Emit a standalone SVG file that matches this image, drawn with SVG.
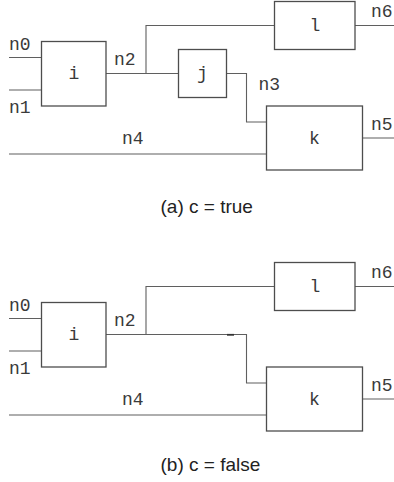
<svg xmlns="http://www.w3.org/2000/svg" width="394" height="482" viewBox="0 0 394 482">
<style>
.box{fill:#fff;stroke:#4d4d4d;stroke-width:1.3}
.w{fill:none;stroke:#5f5f5f;stroke-width:1.1}
.lbl{font-family:"Liberation Mono",monospace;font-size:18px;fill:#3a3a3a}
.cap{font-family:"Liberation Sans",Arial,sans-serif;font-size:19px;fill:#222}
</style>
<rect width="394" height="482" fill="#fff"/>
<g id="connectors">
<path class="w" d="M9 57.5H41.5M9 90H41.5M106 73.5H178.5M146 73.5V25.5H274.5M226.5 73.5H246.5V122H266.5M9 154H266.5M362.5 138H394M355 25.5H394"/>
<path class="w" d="M9 318.5H41.5M9 351H41.5M106 334.5H246.5V383H266.5M146 334.5V286.5H274.5M9 415H266.5M362.5 399H394M355 286.5H394"/>
<path d="M227 334.8H234" stroke="#333" stroke-width="1.8"/>
</g>
<g id="a_i"><rect class="box" x="41.5" y="41.5" width="64.5" height="64.5"/><text class="lbl" x="74" y="79" text-anchor="middle">i</text></g>
<g id="a_j"><rect class="box" x="178.5" y="49.5" width="48" height="48"/><text class="lbl" x="202.5" y="79" text-anchor="middle">j</text></g>
<g id="a_l"><rect class="box" x="274.5" y="1.5" width="80.5" height="48"/><text class="lbl" x="315" y="30.5" text-anchor="middle">l</text></g>
<g id="a_k"><rect class="box" x="266.5" y="106" width="96" height="64"/><text class="lbl" x="314.5" y="144" text-anchor="middle">k</text></g>
<g id="a_labels">
<text class="lbl" x="9" y="50">n0</text>
<text class="lbl" x="9" y="113">n1</text>
<text class="lbl" x="114" y="65">n2</text>
<text class="lbl" x="258.5" y="90">n3</text>
<text class="lbl" x="122" y="144">n4</text>
<text class="lbl" x="371" y="130">n5</text>
<text class="lbl" x="371" y="17">n6</text>
<text class="cap" x="160.5" y="213">(a) c = true</text>
</g>
<g id="b_i"><rect class="box" x="41.5" y="302.5" width="64.5" height="64.5"/><text class="lbl" x="74" y="340" text-anchor="middle">i</text></g>
<g id="b_l"><rect class="box" x="274.5" y="262.5" width="80.5" height="48"/><text class="lbl" x="315" y="291.5" text-anchor="middle">l</text></g>
<g id="b_k"><rect class="box" x="266.5" y="367" width="96" height="64"/><text class="lbl" x="314.5" y="405" text-anchor="middle">k</text></g>
<g id="b_labels">
<text class="lbl" x="9" y="311">n0</text>
<text class="lbl" x="9" y="374">n1</text>
<text class="lbl" x="114" y="326">n2</text>
<text class="lbl" x="122" y="405">n4</text>
<text class="lbl" x="371" y="391">n5</text>
<text class="lbl" x="371" y="278">n6</text>
<text class="cap" x="160.5" y="471">(b) c = false</text>
</g>
</svg>
